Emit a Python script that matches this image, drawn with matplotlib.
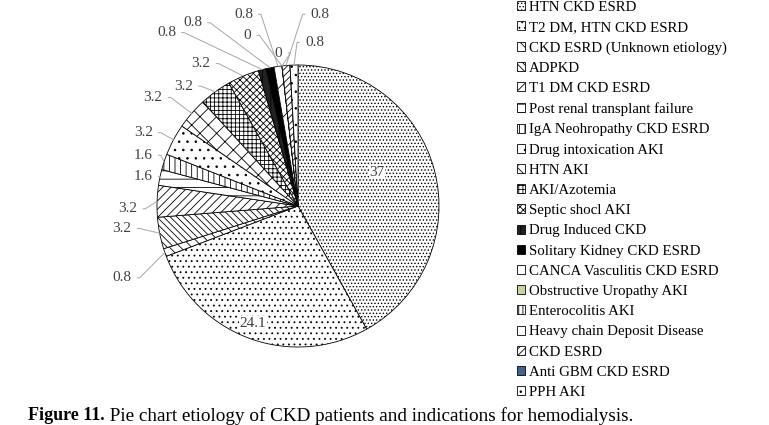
import matplotlib
matplotlib.use("Agg")
import matplotlib.pyplot as plt
import numpy as np

plt.rcParams['font.family'] = ['Liberation Serif', 'DejaVu Serif']
plt.rcParams['hatch.linewidth'] = 0.6

# data
categories = ['HTN CKD ESRD', 'T2 DM, HTN CKD ESRD', 'CKD ESRD (Unknown etiology)', 'ADPKD',
              'T1 DM CKD ESRD', 'Post renal transplant failure', 'IgA Neohropathy CKD ESRD',
              'Drug intoxication AKI', 'HTN AKI', 'AKI/Azotemia', 'Septic shocl AKI',
              'Drug Induced CKD', 'Solitary Kidney CKD ESRD', 'CANCA Vasculitis CKD ESRD',
              'Obstructive Uropathy AKI', 'Enterocolitis AKI', 'Heavy chain Deposit Disease',
              'CKD ESRD', 'Anti GBM CKD ESRD', 'PPH AKI']
values = [37, 24.1, 0.8, 3.2, 3.2, 1.6, 1.6, 3.2, 3.2, 3.2, 3.2,
          0.8, 0.8, 0.8, 0, 0, 0, 0.8, 0, 0.8]
value_labels = ['37', '24.1', '0.8', '3.2', '3.2', '1.6', '1.6', '3.2', '3.2', '3.2', '3.2',
                '0.8', '0.8', '0.8', '0', '0', '', '0.8', '', '0.8']

# styles
fills = ['white'] * 20
fills[11] = '#222222'
fills[12] = 'black'
fills[14] = '#c4d79b'
fills[18] = '#44648e'
hatches = ['.....', '...', '\\\\\\', '\\\\\\\\\\', '////', '--', '|||', '..', 'XX', '++++',
           'xxxxx', '||', '', '/', '', '||||', '', '/////', '', '..']

# label positions in pie units (x, y); None = no label
label_pos = [(0.56, 0.24), (-0.32, -0.83),
             (-1.18, -0.51), (-1.18, -0.16), (-1.14, -0.02), (-1.03, 0.21), (-1.03, 0.36),
             (-1.03, 0.52), (-0.96, 0.77), (-0.745, 0.85), (-0.62, 1.01),
             (-0.865, 1.23), (-0.68, 1.30), (-0.32, 1.36), (-0.33, 1.21), (-0.11, 1.085),
             None, (0.09, 1.36), None, (0.05, 1.16)]

fig = plt.figure(figsize=(7.69, 4.25), dpi=100)
cx, cy, r = 298, 206, 141
ax = fig.add_axes([(cx - r) / 769, (425 - cy - r) / 425, 2 * r / 769, 2 * r / 425])

wedges, _ = ax.pie(values, startangle=90, counterclock=False, colors=fills,
                   wedgeprops=dict(edgecolor='black', linewidth=0.6))
for w, h in zip(wedges, hatches):
    w.set_hatch(h)
ax.set_xlim(-1, 1)
ax.set_ylim(-1, 1)
ax.set_aspect('equal')
ax.axis('off')

for i, w in enumerate(wedges):
    if label_pos[i] is None:
        continue
    ang = np.deg2rad((w.theta1 + w.theta2) / 2)
    tx, ty = label_pos[i]
    if i < 2:
        ax.text(tx, ty, value_labels[i], ha='center', va='center', fontsize=11,
                color='#404040', bbox=dict(facecolor='white', edgecolor='none', pad=0.5))
        continue
    px, py = np.cos(ang), np.sin(ang)
    left = tx < 0
    ax.annotate(value_labels[i], xy=(px, py), xytext=(tx, ty),
                ha='right' if left else 'left', va='center',
                fontsize=11, color='#404040', annotation_clip=False,
                arrowprops=dict(arrowstyle='-', color='#a6a6a6', lw=0.7,
                                shrinkA=2, shrinkB=0,
                                connectionstyle='arc,angleA=%d,armA=8,angleB=0,armB=0,rad=0'
                                                % (0 if left else 180),
                                relpos=(1, 0.5) if left else (0, 0.5)))

fig.legend(wedges, categories, loc='upper left', bbox_to_anchor=(511 / 769, 1.012),
           frameon=False, fontsize=10.7, handlelength=0.55, handleheight=0.55,
           handletextpad=0.25, labelspacing=0.485, borderaxespad=0)

t1 = fig.text(28 / 769, 9 / 425, 'Figure 11.', fontweight='bold', fontsize=13, va='center')
ax.annotate(' Pie chart etiology of CKD patients and indications for hemodialysis.',
            xy=(1, 0.5), xycoords=t1, va='center', fontsize=13.8, annotation_clip=False)

fig.savefig('out.png', dpi=100)
